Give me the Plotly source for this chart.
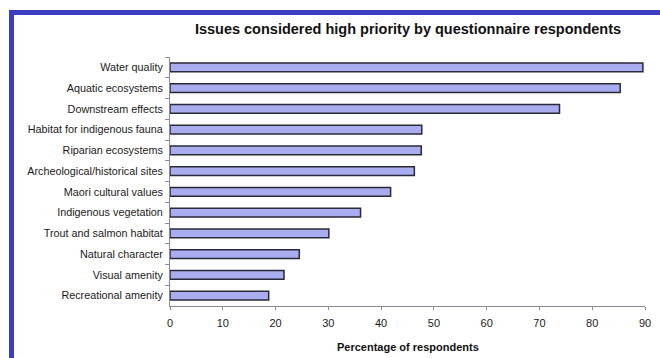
import plotly.graph_objects as go

categories = [
    "Water quality", "Aquatic ecosystems", "Downstream effects",
    "Habitat for indigenous fauna", "Riparian ecosystems",
    "Archeological/historical sites", "Maori cultural values",
    "Indigenous vegetation", "Trout and salmon habitat",
    "Natural character", "Visual amenity", "Recreational amenity",
]
values = [89.6, 85.3, 73.8, 47.7, 47.6, 46.3, 41.8, 36.1, 30.1, 24.5, 21.6, 18.7]
x_ticks = [0, 10, 20, 30, 40, 50, 60, 70, 80, 90]

FONT = "Arial, Liberation Sans, sans-serif"

fig = go.Figure(go.Bar(
    x=values, y=categories, orientation="h",
    marker=dict(color="#a9adf0", line=dict(color="#2a2a35", width=1.5)),
    width=0.42,
))

# plot area in pixels: left 170, right 651, top 57, bottom 306
W, H = 660, 358
L, R, T, B = 170, 651, 57, 306
def px(xp):
    return (xp - L) / (R - L)
def py(yp):
    return (B - yp) / (B - T)

fig.update_layout(
    width=W, height=H,
    margin=dict(l=L, r=W - R, t=T, b=H - B),
    paper_bgcolor="white", plot_bgcolor="white",
    font=dict(family=FONT, size=10, color="#1a1a1a"),
    showlegend=False,
    title=dict(text="<b>Issues considered high priority by questionnaire respondents</b>",
               x=408 / W, xanchor="center", xref="container",
               y=1 - 29 / H, yanchor="middle", yref="container",
               font=dict(size=14.5, family=FONT, color="#111")),
    xaxis=dict(range=[0, 90], tickvals=x_ticks, showgrid=False, zeroline=False,
               showline=True, linecolor="#8a8a9e", linewidth=1,
               ticks="outside", ticklen=3, tickcolor="#8a8a9e",
               ticklabelstandoff=4,
               tickfont=dict(size=11, color="#1a1a1a")),
    yaxis=dict(autorange="reversed", showgrid=False, showline=True,
               linecolor="#8a8a9e", linewidth=1, ticks="outside", ticklen=4,
               tickcolor="#8a8a9e", tickson="boundaries",
               ticklabelstandoff=4,
               tickfont=dict(size=10.8, color="#1a1a1a")),
    annotations=[dict(text="<b>Percentage of respondents</b>", xref="paper", yref="paper",
                      x=0.5, y=py(347), xanchor="center", yanchor="middle",
                      showarrow=False, font=dict(size=11, family=FONT, color="#111"))],
    shapes=[
        dict(type="line", xref="paper", yref="paper", x0=px(9.5), x1=px(700),
             y0=py(12.5), y1=py(12.5), line=dict(color="#3a3dbf", width=5)),
        dict(type="line", xref="paper", yref="paper", x0=px(9.5), x1=px(9.5),
             y0=py(10), y1=py(400), line=dict(color="#3a3dbf", width=5)),
    ],
)

fig.write_html("out.html")
